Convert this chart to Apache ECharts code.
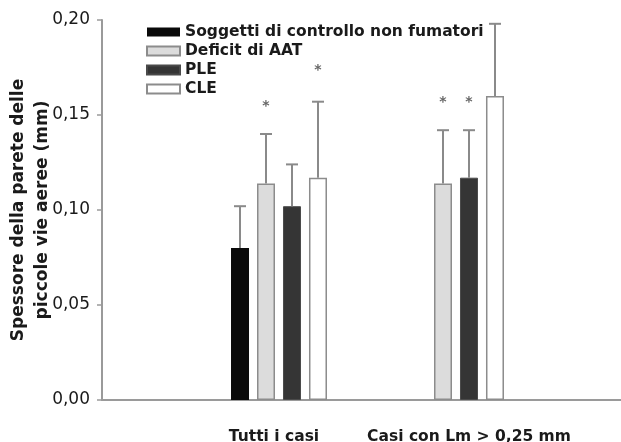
<!DOCTYPE html>
<html>
<head>
<meta charset="utf-8">
<script src="https://cdn.jsdelivr.net/npm/echarts@6/dist/echarts.min.js"></script>
<style>
html,body{margin:0;padding:0;background:#fff;}
#chart{width:621px;height:442px;}
</style>
</head>
<body>
<div id="chart"></div>
<script>
// ---- data ----
var categories = ['', 'Tutti i casi', 'Casi con Lm > 0,25 mm', ''];
var seriesNames = ['Soggetti di controllo non fumatori', 'Deficit di AAT', 'PLE', 'CLE'];
var yTickLabels = ['0,00', '0,05', '0,10', '0,15', '0,20'];

var controlMean = [null, 0.080, null, null];
var controlErrTop = [null, 0.102, null, null];
var controlStar = [null, null, null, null];

var aatMean = [null, 0.114, 0.114, null];
var aatErrTop = [null, 0.140, 0.142, null];
var aatStar = [null, 0.156, 0.158, null];

var pleMean = [null, 0.102, 0.117, null];
var pleErrTop = [null, 0.124, 0.142, null];
var pleStar = [null, null, 0.158, null];

var cleMean = [null, 0.117, 0.160, null];
var cleErrTop = [null, 0.157, 0.198, null];
var cleStar = [null, 0.175, null, null];

// ---- chart ----
var means = [controlMean, aatMean, pleMean, cleMean];
var errs = [controlErrTop, aatErrTop, pleErrTop, cleErrTop];
var stars = [controlStar, aatStar, pleStar, cleStar];

var BAR_W = 18, BAR_GAP = 8;
var styles = [
  {color: '#0a0a0a', borderColor: '#0a0a0a', borderWidth: 0},
  {color: '#dcdcdc', borderColor: '#8c8c8c', borderWidth: 1.5},
  {color: '#353535', borderColor: '#4a4a4a', borderWidth: 1},
  {color: '#ffffff', borderColor: '#8c8c8c', borderWidth: 1.5}
];
var FONT = 'DejaVu Sans';

var series = [];
for (var i = 0; i < 4; i++) {
  series.push({
    name: seriesNames[i],
    type: 'bar',
    data: means[i].map(function (v) { return v === null ? '-' : v; }),
    barWidth: BAR_W,
    barGap: (BAR_GAP / BAR_W * 100).toFixed(1) + '%',
    itemStyle: styles[i],
    emphasis: {disabled: true},
    z: 2
  });
}
for (var k = 0; k < 4; k++) {
  (function (idx) {
    var d = [];
    for (var c = 0; c < categories.length; c++) {
      if (means[idx][c] !== null) {
        d.push([c, means[idx][c], errs[idx][c], stars[idx][c] === null ? -1 : stars[idx][c]]);
      }
    }
    var offset = (idx - 1.5) * (BAR_W + BAR_GAP);
    series.push({
      name: 'err' + idx,
      type: 'custom',
      z: 3,
      silent: true,
      data: d,
      encode: {x: 0, y: [1, 2, 3]},
      renderItem: function (params, api) {
        var cat = api.value(0);
        var mean = api.value(1), top = api.value(2), star = api.value(3);
        var base = api.coord([cat, mean]);
        var x = base[0] + offset;
        var yMean = base[1];
        var yTop = api.coord([cat, top])[1];
        var children = [
          {type: 'line', shape: {x1: x, y1: yMean, x2: x, y2: yTop},
           style: {stroke: '#8a8a8a', lineWidth: 2}},
          {type: 'line', shape: {x1: x - 6, y1: yTop, x2: x + 6, y2: yTop},
           style: {stroke: '#8a8a8a', lineWidth: 2}}
        ];
        if (star >= 0) {
          var ys = api.coord([cat, star])[1];
          children.push({type: 'text', x: x, y: ys + 3,
            style: {text: '*', fill: '#666', font: 'bold 14px "DejaVu Sans"',
                    align: 'center', verticalAlign: 'middle'}});
        }
        return {type: 'group', children: children};
      }
    });
  })(k);
}

var chart = echarts.init(document.getElementById('chart'), null, {renderer: 'canvas'});
chart.setOption({
  animation: false,
  backgroundColor: '#ffffff',
  grid: {left: 102, right: -12, top: 20, bottom: 42, containLabel: false, outerBoundsMode: 'none'},
  legend: {
    data: seriesNames,
    orient: 'vertical',
    left: 141,
    top: 19,
    icon: 'rect',
    itemWidth: 33,
    itemHeight: 9,
    itemGap: 3,
    selectedMode: false,
    textStyle: {fontFamily: FONT, fontWeight: 'bold', fontSize: 15.5, color: '#1a1a1a', lineHeight: 16}
  },
  xAxis: {
    type: 'category',
    data: categories.map(function (c, i) {
      var pad = [0, 0, 0, 0];
      if (i === 1) pad = [0, 10, 0, 0];
      if (i === 2) pad = [0, 0, 0, 26];
      return {value: c, textStyle: {padding: pad}};
    }),
    boundaryGap: false,
    axisLine: {show: true, lineStyle: {color: '#9a9a9a', width: 2}},
    axisTick: {show: false},
    axisLabel: {
      interval: 0,
      margin: 29,
      fontFamily: FONT, fontWeight: 'bold', fontSize: 15.5, color: '#1a1a1a'
    },
    splitLine: {show: false}
  },
  yAxis: {
    type: 'value',
    min: 0, max: 0.2, interval: 0.05,
    name: 'Spessore della parete delle\npiccole vie aeree (mm)',
    nameLocation: 'middle',
    nameRotate: 90,
    nameGap: 47,
    nameMoveOverlap: false,
    nameTextStyle: {fontFamily: FONT, fontWeight: 'bold', fontSize: 17, lineHeight: 24, color: '#1a1a1a'},
    axisLine: {show: true, lineStyle: {color: '#9a9a9a', width: 2}},
    axisTick: {show: true, length: 5, lineStyle: {color: '#9a9a9a', width: 1.5}},
    axisLabel: {
      margin: 12,
      fontFamily: FONT, fontSize: 17, color: '#1a1a1a',
      formatter: function (v) { return yTickLabels[Math.round(v / 0.05)]; }
    },
    splitLine: {show: false}
  },
  series: series
});
</script>
</body>
</html>
